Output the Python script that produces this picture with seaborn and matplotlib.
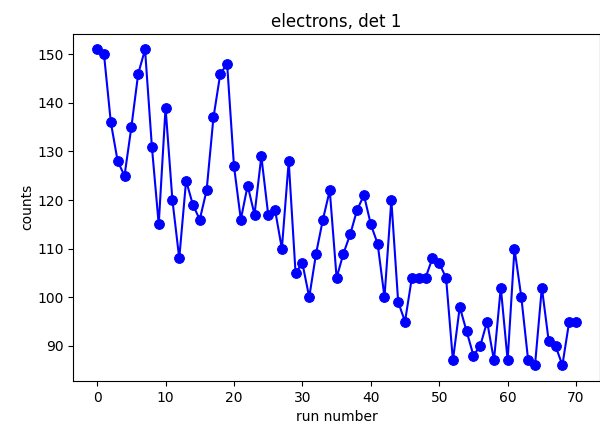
import numpy as np
import pandas as pd
import seaborn as sns
import matplotlib
matplotlib.use('Agg')
import matplotlib.pyplot as plt

run_number = np.arange(71)
counts = [151, 150, 136, 128, 125, 135, 146, 151, 131, 115,
          139, 120, 108, 124, 119, 116, 122, 137, 146, 148,
          127, 116, 123, 117, 129, 117, 118, 110, 128, 105,
          107, 100, 109, 116, 122, 104, 109, 113, 118, 121,
          115, 111, 100, 120, 99, 95, 104, 104, 104, 108,
          107, 104, 87, 98, 93, 88, 90, 95, 87, 102,
          87, 110, 100, 87, 86, 102, 91, 90, 86, 95, 95]

data = pd.DataFrame({'run': run_number, 'counts': counts})

plt.figure(figsize=(6, 4.32), dpi=100)
ax = sns.lineplot(data=data, x='run', y='counts', color='blue',
                  marker='o', markersize=7, markeredgecolor='blue', linewidth=1.5)
ax.set_xlabel('run number')
ax.set_ylabel('counts', labelpad=2)
ax.set_title('electrons, det 1', pad=5)
ax.set_xticks([0, 10, 20, 30, 40, 50, 60, 70])
ax.set_yticks([90, 100, 110, 120, 130, 140, 150])
plt.subplots_adjust(left=0.122, right=1.0, top=0.922, bottom=0.118)
plt.savefig('out.png', dpi=100)
